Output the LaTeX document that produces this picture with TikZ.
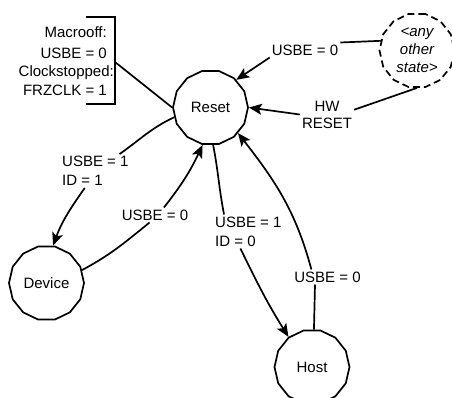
\documentclass[tikz,border=0pt]{standalone}
\usepackage{fontspec}
\setmainfont{Liberation Sans}
\usetikzlibrary{shapes.geometric,arrows.meta}
\begin{document}
\begin{tikzpicture}[x=1pt,y=-1pt,
  every node/.style={font=\fontsize{15}{19}\selectfont},
  state/.style={draw, line width=1.7pt, regular polygon, regular polygon sides=14,
    minimum size=75pt, inner sep=0pt},
  lbl/.style={inner sep=2pt, align=left},
  brtext/.style={inner sep=0pt, anchor=base east},
  conn/.style={line width=1.7pt},
  arr/.style={conn, -{Stealth[length=13pt,width=11pt,inset=3pt]}}
]
\useasboundingbox (0,0) rectangle (452,397);
\clip (0,0) rectangle (452,397);

% states
\node[state] (reset)  at (210.5,107.5) {Reset};
\node[state] (device) at (46.5,283)   {Device};
\node[state] (host)   at (312,367)    {Host};
\node[state, dash pattern=on 7pt off 4pt, align=center,
      font=\fontsize{15}{18}\selectfont\itshape] (other) at (417,50.5)
      {\textless any\\other\\state\textgreater};

% bracket annotation
\node[brtext] (br1) at (107,37.3) {Macrooff:};
\node[brtext] (br2) at (107,58.3) {USBE = 0};
\node[brtext] (br3) at (114,76.5) {Clockstopped:};
\node[brtext] (br4) at (107,95.3) {FRZCLK = 1};
\draw[conn] (86,17) -- (115,17) -- (115,104) -- (86,104);
\coordinate (brk) at (115,62);
\draw[conn] (brk) -- (reset.west);

% labels
\node[lbl] (lblA) at (305,50) {USBE = 0};
\node[lbl, align=center, font=\fontsize{15}{17}\selectfont] (lblB) at (327,114.5) {HW\\RESET};
\node[lbl, anchor=west] (lblC) at (60,171) {USBE = 1\\ID = 1};
\node[lbl] (lblD) at (155,215) {USBE = 0};
\node[lbl, anchor=west] (lblE) at (213,231.5) {USBE = 1\\ID = 0};
\node[lbl] (lblF) at (327.5,277) {USBE = 0};

% connectors
\draw[conn] (other.165) -- (lblA.north east);
\draw[arr] (lblA.south west) -- (reset.47);

\draw[conn] (other.south) -- (lblB.10);
\draw[arr] (lblB.west) -- (reset.east);

\draw[conn] (reset.195) to[out=205,in=35] (lblC.35);
\draw[arr] (lblC.238) to[out=235,in=70] (device.80);

\draw[conn] (device.20) to[out=28,in=219] (lblD.234);
\draw[arr] (lblD.40) to[out=52,in=245] (reset.258);

\draw[conn] (reset.274) to[out=281,in=101] (lblE.145);
\draw[arr] (lblE.245) to[out=296,in=122] (host.128);

\draw[conn] (host.87) -- (lblF.211);
\draw[arr] (lblF.155) to[out=105,in=308] (reset.317);
\end{tikzpicture}
\end{document}
